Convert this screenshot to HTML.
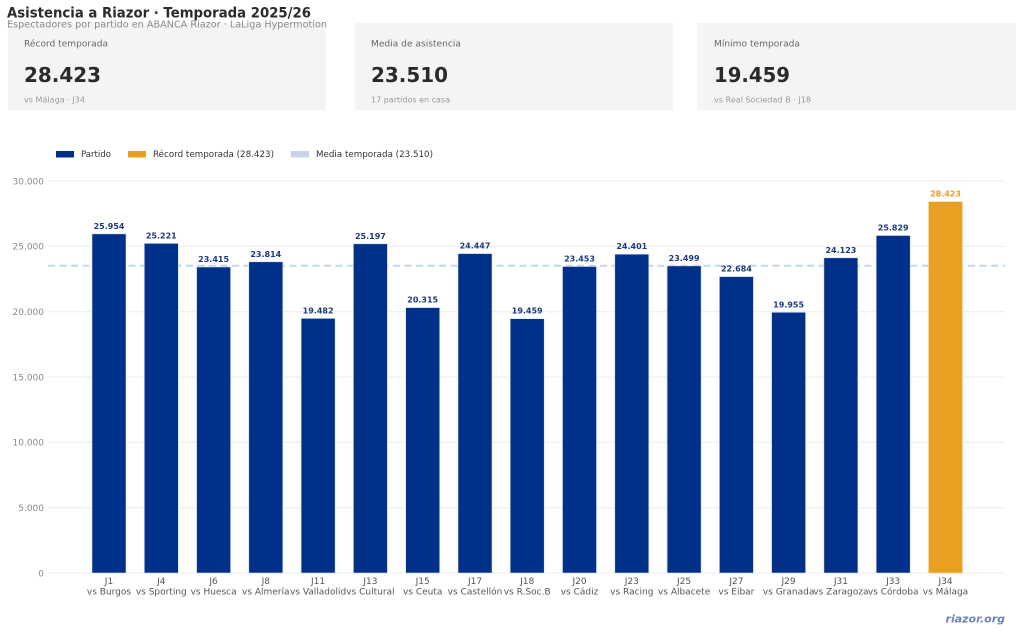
<!DOCTYPE html>
<html><head><meta charset="utf-8"><style>
html,body{margin:0;padding:0;background:#fff;}
svg{display:block;font-family:"DejaVu Sans","Liberation Sans",sans-serif;}
</style></head><body>
<svg width="1024" height="632" viewBox="0 0 1024 632" xmlns="http://www.w3.org/2000/svg">
<rect width="1024" height="632" fill="#fff"/>
<!-- cards -->
<rect x="8" y="23" width="318" height="87" fill="#f4f4f2"/>
<rect x="355" y="23" width="318" height="87" fill="#f4f4f2"/>
<rect x="697" y="23" width="319" height="87" fill="#f4f4f2"/>
<text x="7" y="17.3" font-size="14" font-weight="bold" fill="#2b2b2b" textLength="304" lengthAdjust="spacingAndGlyphs">Asistencia a Riazor · Temporada 2025/26</text>
<g font-size="9" fill="#666">
<text x="24" y="46.5" textLength="84" lengthAdjust="spacingAndGlyphs">Récord temporada</text>
<text x="371" y="46.5" textLength="90" lengthAdjust="spacingAndGlyphs">Media de asistencia</text>
<text x="714" y="46.5" textLength="86" lengthAdjust="spacingAndGlyphs">Mínimo temporada</text>
</g>
<g font-size="20" font-weight="bold" fill="#2a2a2a">
<text x="24" y="82" textLength="77" lengthAdjust="spacingAndGlyphs">28.423</text>
<text x="371" y="82" textLength="77" lengthAdjust="spacingAndGlyphs">23.510</text>
<text x="714" y="82" textLength="76" lengthAdjust="spacingAndGlyphs">19.459</text>
</g>
<g font-size="8" fill="#9a9a9a">
<text x="24" y="102.5" textLength="61" lengthAdjust="spacingAndGlyphs">vs Málaga · J34</text>
<text x="371" y="102.5" textLength="79" lengthAdjust="spacingAndGlyphs">17 partidos en casa</text>
<text x="714" y="102.5" textLength="97" lengthAdjust="spacingAndGlyphs">vs Real Sociedad B · J18</text>
</g>
<!-- legend -->
<rect x="56" y="151" width="18" height="6.5" fill="#00308a"/>
<text x="81" y="157" font-size="8.5" fill="#333" textLength="30" lengthAdjust="spacingAndGlyphs">Partido</text>
<rect x="128" y="151" width="18" height="6.5" fill="#e8a020"/>
<text x="153" y="157" font-size="8.5" fill="#333" textLength="121" lengthAdjust="spacingAndGlyphs">Récord temporada (28.423)</text>
<rect x="291" y="151" width="18" height="6.5" fill="#c6d5ea"/>
<text x="316" y="157" font-size="8.5" fill="#333" textLength="117" lengthAdjust="spacingAndGlyphs">Media temporada (23.510)</text>
<!-- grid -->
<g stroke="#ececec" stroke-width="1">
<line x1="48" y1="181" x2="1005" y2="181"/>
<line x1="48" y1="246.3" x2="1005" y2="246.3"/>
<line x1="48" y1="311.7" x2="1005" y2="311.7"/>
<line x1="48" y1="377" x2="1005" y2="377"/>
<line x1="48" y1="442.3" x2="1005" y2="442.3"/>
<line x1="48" y1="507.7" x2="1005" y2="507.7"/>
<line x1="48" y1="573" x2="1005" y2="573"/>
</g>
<g font-size="9" fill="#8a8a8a" text-anchor="end">
<text x="44" y="184.3">30.000</text>
<text x="44" y="249.6">25.000</text>
<text x="44" y="315">20.000</text>
<text x="44" y="380.3">15.000</text>
<text x="44" y="445.6">10.000</text>
<text x="44" y="511">5.000</text>
<text x="44" y="576.3">0</text>
</g>
<!-- mean line -->
<line x1="48" y1="265.8" x2="1005" y2="265.8" stroke="#c6d5ea" stroke-width="2" stroke-dasharray="7,4.5"/>
<!-- bars -->
<g fill="#00308a" stroke="#d6deee" stroke-width="0.6">
<rect x="92" y="233.9" width="34" height="339.1"/>
<rect x="144.3" y="243.4" width="34" height="329.6"/>
<rect x="196.6" y="267" width="34" height="306"/>
<rect x="248.8" y="261.8" width="34" height="311.2"/>
<rect x="301.1" y="318.4" width="34" height="254.6"/>
<rect x="353.4" y="243.8" width="34" height="329.2"/>
<rect x="405.7" y="307.6" width="34" height="265.4"/>
<rect x="458" y="253.6" width="34" height="319.4"/>
<rect x="510.2" y="318.7" width="34" height="254.3"/>
<rect x="562.5" y="266.5" width="34" height="306.5"/>
<rect x="614.8" y="254.2" width="34" height="318.8"/>
<rect x="667.1" y="265.9" width="34" height="307.1"/>
<rect x="719.4" y="276.6" width="34" height="296.4"/>
<rect x="771.6" y="312.3" width="34" height="260.7"/>
<rect x="823.9" y="257.8" width="34" height="315.2"/>
<rect x="876.2" y="235.5" width="34" height="337.5"/>
</g>
<rect x="928.5" y="201.6" width="34" height="371.4" fill="#e8a020" stroke="#f3dcb0" stroke-width="0.6"/>
<!-- value labels -->
<g font-size="8" font-weight="bold" fill="#1c3a7e" text-anchor="middle">
<text x="109" y="229">25.954</text>
<text x="161.3" y="238.4">25.221</text>
<text x="213.6" y="262">23.415</text>
<text x="265.8" y="256.8">23.814</text>
<text x="318.1" y="313.4">19.482</text>
<text x="370.4" y="238.8">25.197</text>
<text x="422.7" y="302.6">20.315</text>
<text x="475" y="248.6">24.447</text>
<text x="527.2" y="313.7">19.459</text>
<text x="579.5" y="261.5">23.453</text>
<text x="631.8" y="249.2">24.401</text>
<text x="684.1" y="260.9">23.499</text>
<text x="736.4" y="271.6">22.684</text>
<text x="788.6" y="307.3">19.955</text>
<text x="840.9" y="252.8">24.123</text>
<text x="893.2" y="230.5">25.829</text>
</g>
<text x="945.5" y="196.6" font-size="8" font-weight="bold" fill="#e8a020" text-anchor="middle">28.423</text>
<!-- x labels -->
<g font-size="9" fill="#555" text-anchor="middle">
<text x="109" y="584">J1</text><text x="109" y="594.5">vs Burgos</text>
<text x="161.3" y="584">J4</text><text x="161.3" y="594.5">vs Sporting</text>
<text x="213.6" y="584">J6</text><text x="213.6" y="594.5">vs Huesca</text>
<text x="265.8" y="584">J8</text><text x="265.8" y="594.5">vs Almería</text>
<text x="318.1" y="584">J11</text><text x="318.1" y="594.5">vs Valladolid</text>
<text x="370.4" y="584">J13</text><text x="370.4" y="594.5">vs Cultural</text>
<text x="422.7" y="584">J15</text><text x="422.7" y="594.5">vs Ceuta</text>
<text x="475" y="584">J17</text><text x="475" y="594.5">vs Castellón</text>
<text x="527.2" y="584">J18</text><text x="527.2" y="594.5">vs R.Soc.B</text>
<text x="579.5" y="584">J20</text><text x="579.5" y="594.5">vs Cádiz</text>
<text x="631.8" y="584">J23</text><text x="631.8" y="594.5">vs Racing</text>
<text x="684.1" y="584">J25</text><text x="684.1" y="594.5">vs Albacete</text>
<text x="736.4" y="584">J27</text><text x="736.4" y="594.5">vs Eibar</text>
<text x="788.6" y="584">J29</text><text x="788.6" y="594.5">vs Granada</text>
<text x="840.9" y="584">J31</text><text x="840.9" y="594.5">vs Zaragoza</text>
<text x="893.2" y="584">J33</text><text x="893.2" y="594.5">vs Córdoba</text>
<text x="945.5" y="584">J34</text><text x="945.5" y="594.5">vs Málaga</text>
</g>
<text x="1005" y="622.5" font-size="11" font-weight="bold" font-style="italic" fill="#6f84b5" text-anchor="end">riazor.org</text>
<!-- subtitle drawn on top of cards -->
<text x="7" y="27.5" font-size="10" fill="#8a8a8a" textLength="320" lengthAdjust="spacingAndGlyphs">Espectadores por partido en ABANCA Riazor · LaLiga Hypermotion</text>
</svg>
</body></html>
